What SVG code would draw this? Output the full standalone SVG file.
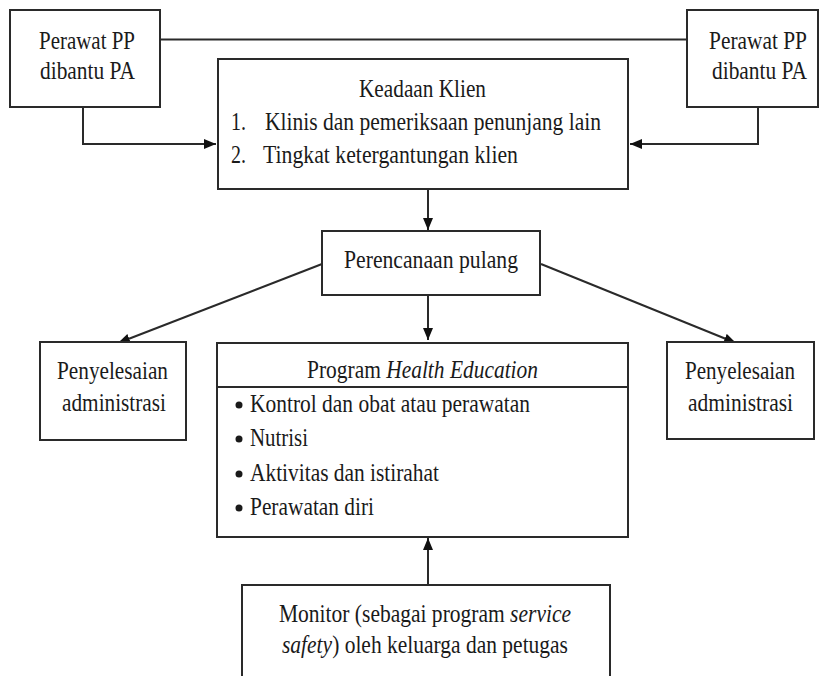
<svg xmlns="http://www.w3.org/2000/svg" width="824" height="676" viewBox="0 0 824 676">
<defs>
<style>
.box{fill:#fff;stroke:#2a2a2a;stroke-width:2}
.ln{fill:none;stroke:#2a2a2a;stroke-width:2}
.it{font-style:italic}
</style>
<marker id="ah" markerUnits="userSpaceOnUse" markerWidth="13" markerHeight="11" refX="12" refY="5" orient="auto" viewBox="0 0 13 11">
<path d="M0,0 L12,5 L0,10 z" fill="#111"/>
</marker>
</defs>
<rect width="824" height="676" fill="#fff"/>
<g id="connectors">
<path class="ln" d="M160,39.5 H687"/>
<path class="ln" d="M83,107 V144 H216" marker-end="url(#ah)"/>
<path class="ln" d="M758,107 V144 H630" marker-end="url(#ah)"/>
<path class="ln" d="M428,189 V230" marker-end="url(#ah)"/>
<path class="ln" d="M428,295 V340" marker-end="url(#ah)"/>
<path class="ln" d="M322,264 L118,343" marker-end="url(#ah)"/>
<path class="ln" d="M541,264 L736,343" marker-end="url(#ah)"/>
<path class="ln" d="M428,585 V538" marker-end="url(#ah)"/>
</g>
<g font-family="'Liberation Serif', 'Times New Roman', Times, serif" font-size="25" fill="#1a1a1a">
<g id="perawat-left">
<rect class="box" x="10" y="10" width="150" height="97"/>
<text x="39" y="49" textLength="96" lengthAdjust="spacingAndGlyphs">Perawat PP</text>
<text x="40" y="79" textLength="95" lengthAdjust="spacingAndGlyphs">dibantu PA</text>
</g>
<g id="perawat-right">
<rect class="box" x="687" y="10" width="131" height="97"/>
<text x="709" y="49" textLength="98" lengthAdjust="spacingAndGlyphs">Perawat PP</text>
<text x="712" y="79" textLength="95" lengthAdjust="spacingAndGlyphs">dibantu PA</text>
</g>
<g id="keadaan-klien">
<rect class="box" x="218" y="59" width="410" height="130"/>
<text x="359" y="97" textLength="127" lengthAdjust="spacingAndGlyphs">Keadaan Klien</text>
<text x="231" y="130" textLength="15" lengthAdjust="spacingAndGlyphs">1.</text>
<text x="265" y="130" textLength="336" lengthAdjust="spacingAndGlyphs">Klinis dan pemeriksaan penunjang lain</text>
<text x="231" y="163" textLength="15" lengthAdjust="spacingAndGlyphs">2.</text>
<text x="263" y="163" textLength="255" lengthAdjust="spacingAndGlyphs">Tingkat ketergantungan klien</text>
</g>
<g id="perencanaan-pulang">
<rect class="box" x="322" y="231" width="218" height="64"/>
<text x="344" y="268" textLength="174" lengthAdjust="spacingAndGlyphs">Perencanaan pulang</text>
</g>
<g id="admin-left">
<rect class="box" x="40" y="342" width="146" height="98"/>
<text x="57" y="379" textLength="111" lengthAdjust="spacingAndGlyphs">Penyelesaian</text>
<text x="62" y="411" textLength="104" lengthAdjust="spacingAndGlyphs">administrasi</text>
</g>
<g id="admin-right">
<rect class="box" x="667" y="342" width="147" height="97"/>
<text x="685" y="379" textLength="110" lengthAdjust="spacingAndGlyphs">Penyelesaian</text>
<text x="688" y="411" textLength="105" lengthAdjust="spacingAndGlyphs">administrasi</text>
</g>
<g id="health-education">
<rect class="box" x="217" y="343" width="411" height="194"/>
<path class="ln" d="M217,387 H628"/>
<text x="307" y="378" textLength="231" lengthAdjust="spacingAndGlyphs">Program <tspan class="it">Health Education</tspan></text>
<circle cx="239" cy="405" r="3.5" fill="#1a1a1a"/>
<text x="250" y="412" textLength="280" lengthAdjust="spacingAndGlyphs">Kontrol dan obat atau perawatan</text>
<circle cx="239" cy="439" r="3.5" fill="#1a1a1a"/>
<text x="250" y="446" textLength="58" lengthAdjust="spacingAndGlyphs">Nutrisi</text>
<circle cx="239" cy="474" r="3.5" fill="#1a1a1a"/>
<text x="250" y="481" textLength="189" lengthAdjust="spacingAndGlyphs">Aktivitas dan istirahat</text>
<circle cx="239" cy="508" r="3.5" fill="#1a1a1a"/>
<text x="250" y="515" textLength="124" lengthAdjust="spacingAndGlyphs">Perawatan diri</text>
</g>
<g id="monitor">
<rect class="box" x="242" y="585" width="368" height="100"/>
<text x="279" y="622" textLength="292" lengthAdjust="spacingAndGlyphs">Monitor (sebagai program <tspan class="it">service</tspan></text>
<text x="282" y="653" textLength="286" lengthAdjust="spacingAndGlyphs"><tspan class="it">safety</tspan>) oleh keluarga dan petugas</text>
</g>
</g>
</svg>
